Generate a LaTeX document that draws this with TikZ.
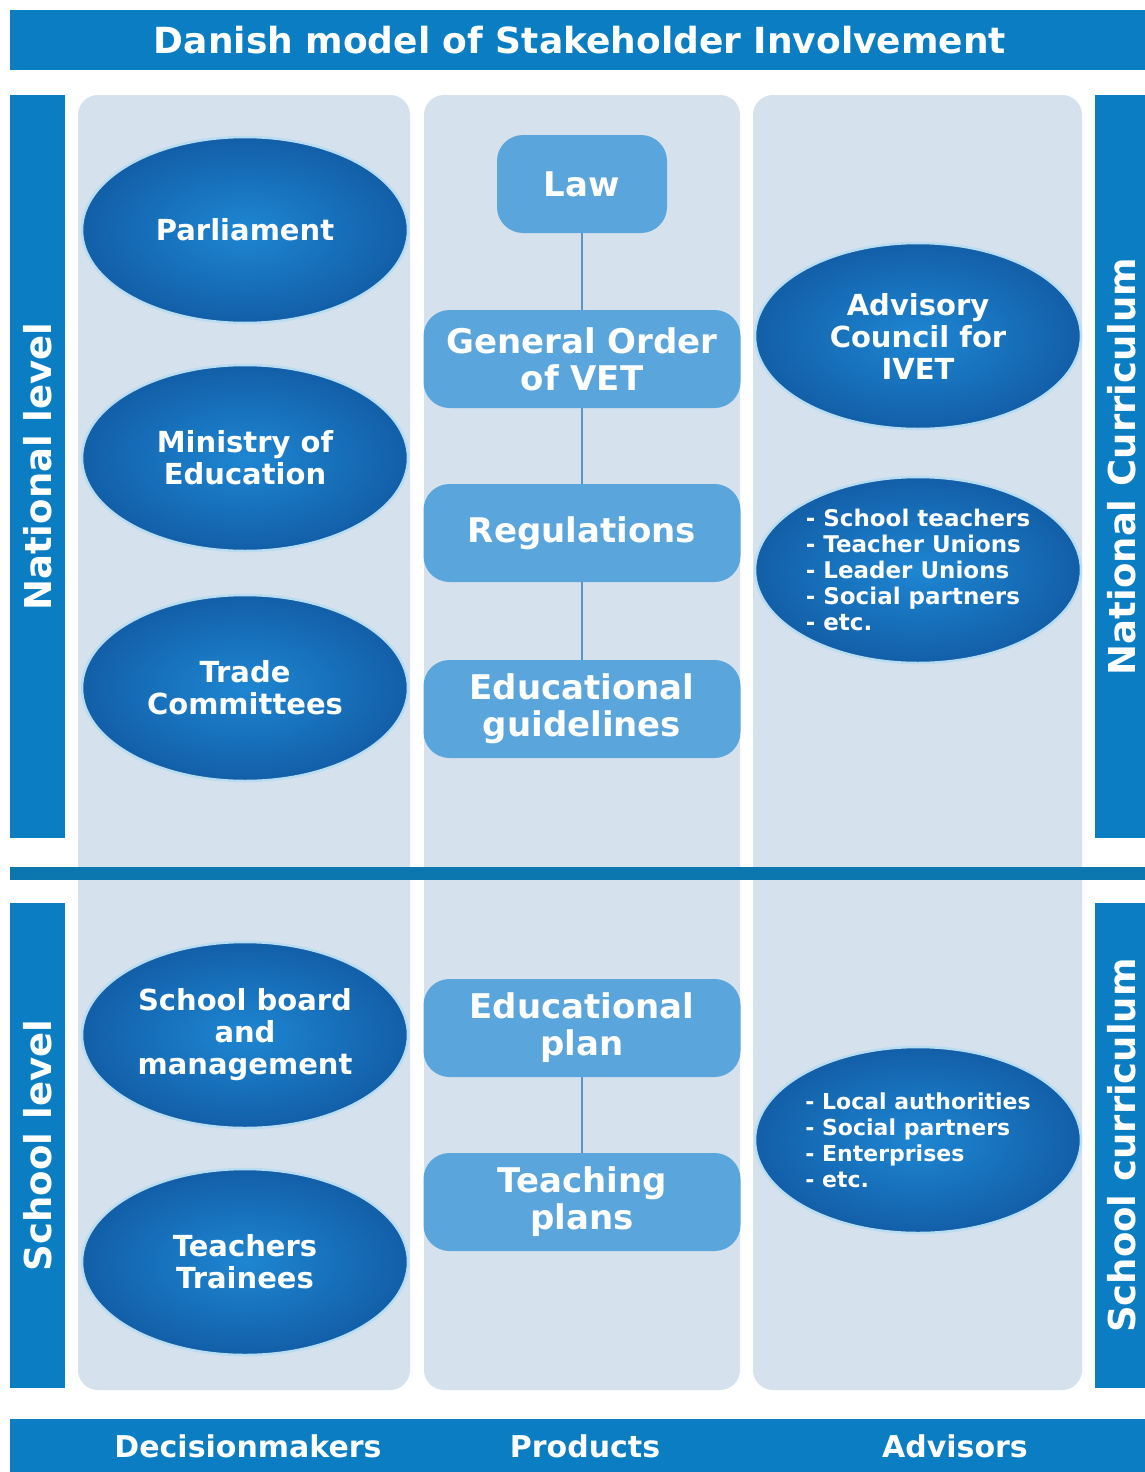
\documentclass[tikz,border=0pt]{standalone}
\usepackage{fontspec}
\setmainfont{DejaVu Sans}
\usetikzlibrary{positioning,shapes}

\definecolor{barblue}{HTML}{0B7EC3}
\definecolor{sepblue}{HTML}{0C76AE}
\definecolor{panelgrey}{HTML}{D5E1ED}
\definecolor{prodblue}{HTML}{5AA5DB}
\definecolor{ovaldark}{HTML}{0A2A55}
\definecolor{ovalmid}{HTML}{125DA6}
\definecolor{ovallight}{HTML}{1E86D2}
\definecolor{linkblue}{HTML}{5F93C4}
\definecolor{halo}{HTML}{B8DDF3}

\pgfdeclareradialshading{ovalshade}{\pgfpoint{0bp}{0bp}}{%
  color(0bp)=(ovallight); color(26bp)=(ovalmid); color(42bp)=(ovaldark); color(100bp)=(ovaldark)}

\begin{document}
\begin{tikzpicture}[
        x=1pt, y=-1pt,
        bar/.style={fill=barblue, text=white, inner sep=0pt},
        bartag/.style={font=\bfseries\fontsize{37}{37}\selectfont},
        foottag/.style={text=white, font=\bfseries\fontsize{30}{30}\selectfont},
        panel/.style={fill=panelgrey, rounded corners=20pt},
        oval/.style={ellipse, shading=ovalshade, draw=halo, line width=2.5pt, inner sep=0pt,
          minimum width=326pt, minimum height=186pt, align=center, text=white,
          font=\bfseries\fontsize{29}{32}\selectfont},
        listoval/.style={oval, align=left, font=\bfseries\fontsize{23}{26}\selectfont},
        product/.style={fill=prodblue, rounded corners=26pt, minimum width=317pt, minimum height=98pt,
          align=center, text=white, font=\bfseries\fontsize{34}{37}\selectfont},
        link/.style={draw=linkblue, line width=1.3pt}
      ]

      \useasboundingbox (0,0) rectangle (1144,1472);
      \fill[white] (0,0) rectangle (1144,1472);

      % columns
      \path[panel] (78,95) rectangle (410,890);
      \path[panel] (424,95) rectangle (740,890);
      \path[panel] (753,95) rectangle (1082,890);
      \path[panel] (78,858) rectangle (410,1390);
      \path[panel] (424,858) rectangle (740,1390);
      \path[panel] (753,858) rectangle (1082,1390);
      \fill[sepblue] (10,867) rectangle (1150,880);

      % bars
      \node (title) at (580,40) [bar, minimum width=1140pt, minimum height=60pt, font=\bfseries\fontsize{36}{36}\selectfont] {Danish model of Stakeholder Involvement};
      \node (NL) at (37.5,466.5) [bar, bartag, rotate=90, minimum width=743pt, minimum height=55pt] {National level};
      \node (SL) at (37.5,1145.5) [bar, bartag, rotate=90, minimum width=485pt, minimum height=55pt] {School level};
      \node (NC) at (1122,466.5) [bar, bartag, rotate=90, minimum width=743pt, minimum height=54pt] {National Curriculum};
      \node (SC) at (1122,1145.5) [bar, bartag, rotate=90, minimum width=485pt, minimum height=54pt] {School curriculum};
      \node (foot) at (580,1447) [bar, minimum width=1140pt, minimum height=56pt] {};
      \node (DM) at (248,1446) [foottag] {Decisionmakers};
      \node (PR) at (585,1446) [foottag] {Products};
      \node (AD) at (955,1446) [foottag] {Advisors};

      % decisionmakers
      \node (P) at (245,230) [oval] {Parliament};
      \node (ME) at (245,458) [oval] {Ministry of\\Education};
      \node (TC) at (245,688) [oval] {Trade\\Committees};
      \node (SB) at (245,1035) [oval] {School board\\and\\management};
      \node (TT) at (245,1262) [oval] {Teachers\\Trainees};

      % products
      \node (L) at (582,184) [product, minimum width=170pt] {Law};
      \node (GO) at (582,359) [product] {General Order\\of VET};
      \node (R) at (582,533) [product] {Regulations};
      \node (EG) at (582,709) [product] {Educational\\guidelines};
      \node (EP) at (582,1028) [product] {Educational\\plan};
      \node (TP) at (582,1202) [product] {Teaching\\plans};

      % advisors
      \node (AC) at (918,336) [oval] {Advisory\\Council for\\IVET};
      \node (ST) at (918,570) [listoval] {- School teachers\\- Teacher Unions\\- Leader Unions\\- Social partners\\- etc.};
      \node (LA) at (918,1140) [listoval, font=\bfseries\fontsize{22}{26}\selectfont] {- Local authorities\\- Social partners\\- Enterprises\\- etc.};

      \path[link]
        (L) edge (GO)
        (GO) edge (R)
        (R) edge (EG)
        (EP) edge (TP);
    \end{tikzpicture}
\end{document}
